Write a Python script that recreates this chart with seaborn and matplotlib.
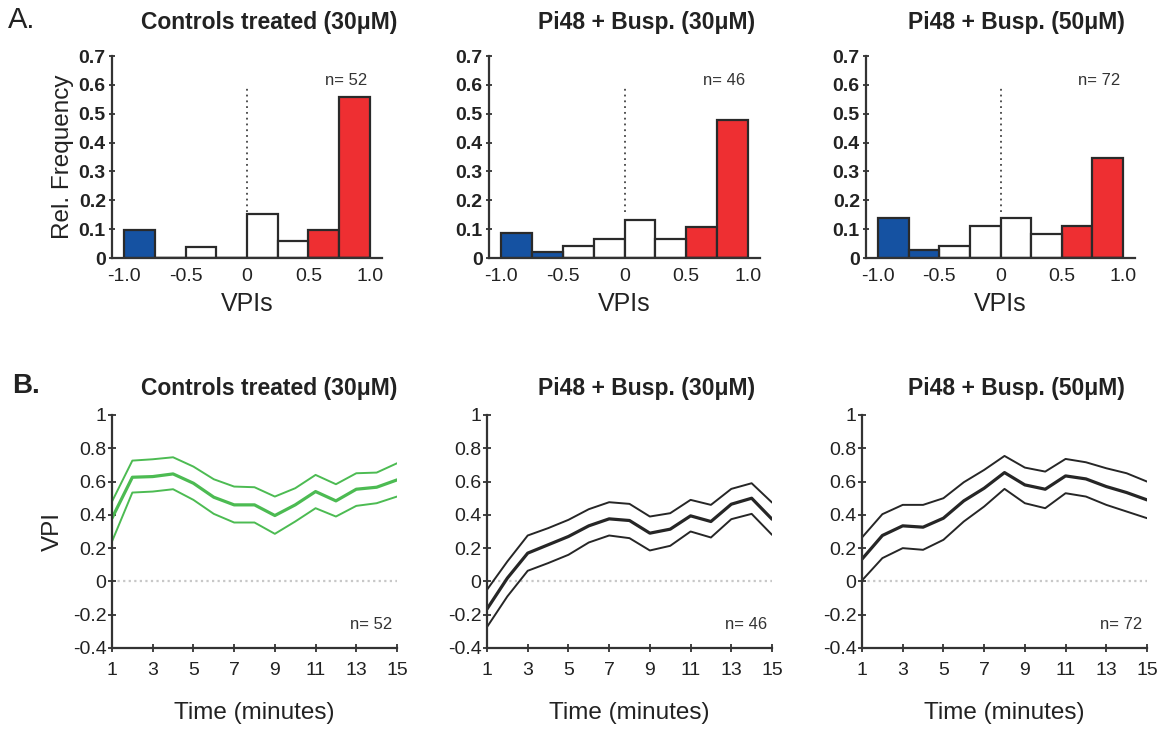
import matplotlib
matplotlib.use("Agg")
import matplotlib.pyplot as plt
import seaborn as sns
import pandas as pd
import numpy as np

sns.set_theme(style="white")
plt.rcParams['font.family'] = ['Liberation Sans', 'DejaVu Sans']

# ---------------- data ----------------
titles = ["Controls treated (30\u03bcM)", "Pi48 + Busp. (30\u03bcM)", "Pi48 + Busp. (50\u03bcM)"]
n_labels = ["n= 52", "n= 46", "n= 72"]

bin_edges = [-1.0, -0.75, -0.5, -0.25, 0.0, 0.25, 0.5, 0.75, 1.0]
bin_centers = [-0.875, -0.625, -0.375, -0.125, 0.125, 0.375, 0.625, 0.875]
bin_group = ["neg", "neg", "mid", "mid", "mid", "mid", "pos", "pos"]

freq_controls = [0.096, 0.0, 0.038, 0.0, 0.154, 0.058, 0.096, 0.558]
freq_pi48_30 = [0.087, 0.022, 0.043, 0.065, 0.130, 0.065, 0.109, 0.478]
freq_pi48_50 = [0.139, 0.028, 0.042, 0.111, 0.139, 0.083, 0.111, 0.347]
hist_freqs = [freq_controls, freq_pi48_30, freq_pi48_50]

minutes = list(range(1, 16))
ctrl_mean = [0.38, 0.626, 0.63, 0.646, 0.59, 0.506, 0.46, 0.46, 0.396, 0.46, 0.54, 0.484, 0.554, 0.566, 0.61]
ctrl_upper = [0.48, 0.726, 0.734, 0.746, 0.69, 0.614, 0.57, 0.566, 0.51, 0.56, 0.64, 0.584, 0.65, 0.654, 0.71]
ctrl_lower = [0.24, 0.534, 0.54, 0.554, 0.49, 0.406, 0.354, 0.354, 0.286, 0.36, 0.44, 0.39, 0.454, 0.47, 0.51]

p30_mean = [-0.166, 0.02, 0.17, 0.22, 0.27, 0.334, 0.376, 0.366, 0.29, 0.314, 0.394, 0.36, 0.464, 0.50, 0.374]
p30_upper = [-0.05, 0.12, 0.276, 0.32, 0.37, 0.434, 0.476, 0.466, 0.39, 0.41, 0.49, 0.46, 0.556, 0.59, 0.474]
p30_lower = [-0.274, -0.09, 0.064, 0.11, 0.16, 0.234, 0.276, 0.26, 0.186, 0.214, 0.30, 0.264, 0.374, 0.406, 0.28]

p50_mean = [0.134, 0.276, 0.334, 0.326, 0.38, 0.484, 0.56, 0.654, 0.58, 0.554, 0.634, 0.616, 0.57, 0.534, 0.49]
p50_upper = [0.264, 0.404, 0.46, 0.46, 0.50, 0.596, 0.67, 0.754, 0.684, 0.66, 0.736, 0.716, 0.68, 0.65, 0.60]
p50_lower = [0.006, 0.14, 0.20, 0.19, 0.25, 0.36, 0.45, 0.556, 0.47, 0.44, 0.53, 0.51, 0.46, 0.42, 0.38]

line_sets = [(ctrl_lower, ctrl_mean, ctrl_upper),
             (p30_lower, p30_mean, p30_upper),
             (p50_lower, p50_mean, p50_upper)]

hist_yticks = [0, 0.1, 0.2, 0.3, 0.4, 0.5, 0.6, 0.7]
hist_yticklabels = ["0", "0.1", "0.2", "0.3", "0.4", "0.5", "0.6", "0.7"]
hist_xticks = [-1.0, -0.5, 0.0, 0.5, 1.0]
hist_xticklabels = ["-1.0", "-0.5", "0", "0.5", "1.0"]
line_yticks = [-0.4, -0.2, 0, 0.2, 0.4, 0.6, 0.8, 1.0]
line_yticklabels = ["-0.4", "-0.2", "0", "0.2", "0.4", "0.6", "0.8", "1"]
line_xticks = [1, 3, 5, 7, 9, 11, 13, 15]

# ---------------- style ----------------
W, H = 1167, 731
fig = plt.figure(figsize=(W / 100, H / 100), dpi=100)
fig.patch.set_facecolor("white")

palette = {"neg": "#1552a2", "mid": "#ffffff", "pos": "#ee2f32"}
line_colors = ["#4cbb52", "#262626", "#262626"]
spine_col = "#333333"
text_col = "#222222"

top_lefts = [112, 489, 866]
top_widths = [270, 271, 269]
bot_lefts = [112, 487, 862]
bot_width = 285
title_x = [269, 647, 1016]

def fx(px):
    return px / W

def fy(py):
    return 1 - py / H

def style_axes(ax):
    for s in ["top", "right"]:
        ax.spines[s].set_visible(False)
    for s in ["left", "bottom"]:
        ax.spines[s].set_color(spine_col)
        ax.spines[s].set_linewidth(1.6)
    ax.set_facecolor("white")
    ax.grid(False)

for i in range(3):
    # ---------- histogram row ----------
    ax = fig.add_axes([fx(top_lefts[i]), fy(258), top_widths[i] / W, (258 - 56) / H])
    df = pd.DataFrame({"vpi": bin_centers, "freq": hist_freqs[i], "group": bin_group})
    sns.histplot(data=df, x="vpi", weights="freq", hue="group", bins=bin_edges,
                 hue_order=["neg", "mid", "pos"], palette=palette, multiple="layer",
                 alpha=1.0, edgecolor="#2a2a2a", linewidth=1.6, legend=False, ax=ax)
    ax.vlines(0, 0.16, 0.6, colors="#444444", linestyles=(0, (1, 2.2)), linewidth=1.3, zorder=0)
    style_axes(ax)
    ax.set_xlim(-1.1, 1.1)
    ax.set_ylim(0, 0.7)
    ax.set_yticks(hist_yticks)
    ax.set_yticklabels(hist_yticklabels, fontweight="bold")
    ax.set_xticks(hist_xticks)
    ax.set_xticklabels(hist_xticklabels)
    ax.tick_params(axis="y", direction="inout", length=5, width=1.3, color=spine_col,
                   labelsize=14, labelcolor=text_col, pad=2, left=True)
    ax.tick_params(axis="x", length=0, labelsize=14, labelcolor=text_col, pad=7)
    ax.set_xlabel("VPIs", fontsize=18, color=text_col, labelpad=5)
    if i == 0:
        ax.set_ylabel("Rel. Frequency", fontsize=17.5, color=text_col, labelpad=3)
    else:
        ax.set_ylabel("")
    ax.text(0.98, 0.616, n_labels[i], ha="right", va="center", fontsize=12, color="#333333")
    fig.text(fx(title_x[i]), fy(23), titles[i], ha="center", va="center",
             fontsize=16.5, fontweight="bold", color=text_col)

    # ---------- time course row ----------
    ax2 = fig.add_axes([fx(bot_lefts[i]), fy(648), bot_width / W, (648 - 415) / H])
    ax2.hlines(0, 1, 15, colors="#c8c8c8", linestyles=(0, (1, 1.5)), linewidth=1.6, zorder=0)
    lower, mean, upper = line_sets[i]
    for vals, lw in [(lower, 1.4), (mean, 2.3), (upper, 1.4)]:
        sns.lineplot(x=minutes, y=vals, color=line_colors[i], linewidth=lw, ax=ax2)
    style_axes(ax2)
    ax2.set_xlim(1, 15)
    ax2.set_ylim(-0.4, 1.0)
    ax2.set_xticks(line_xticks)
    ax2.set_yticks(line_yticks)
    ax2.set_yticklabels(line_yticklabels)
    ax2.tick_params(axis="both", direction="inout", length=6, width=1.3, color=spine_col,
                    labelsize=14, labelcolor=text_col, bottom=True, left=True)
    ax2.tick_params(axis="y", pad=1)
    ax2.tick_params(axis="x", pad=7)
    ax2.set_xlabel("Time (minutes)", fontsize=17.5, color=text_col, labelpad=17)
    if i == 0:
        ax2.set_ylabel("VPI", fontsize=17.5, color=text_col, labelpad=6)
    else:
        ax2.set_ylabel("")
    ax2.text(14.75, -0.26, n_labels[i], ha="right", va="center", fontsize=12, color="#333333")
    fig.text(fx(title_x[i]), fy(388), titles[i], ha="center", va="center",
             fontsize=16.5, fontweight="bold", color=text_col)

fig.text(fx(8), fy(20), "A.", ha="left", va="center", fontsize=21, color=text_col)
fig.text(fx(12), fy(386), "B.", ha="left", va="center", fontsize=20, fontweight="bold", color=text_col)

fig.savefig("out.png", dpi=100, facecolor="white")
